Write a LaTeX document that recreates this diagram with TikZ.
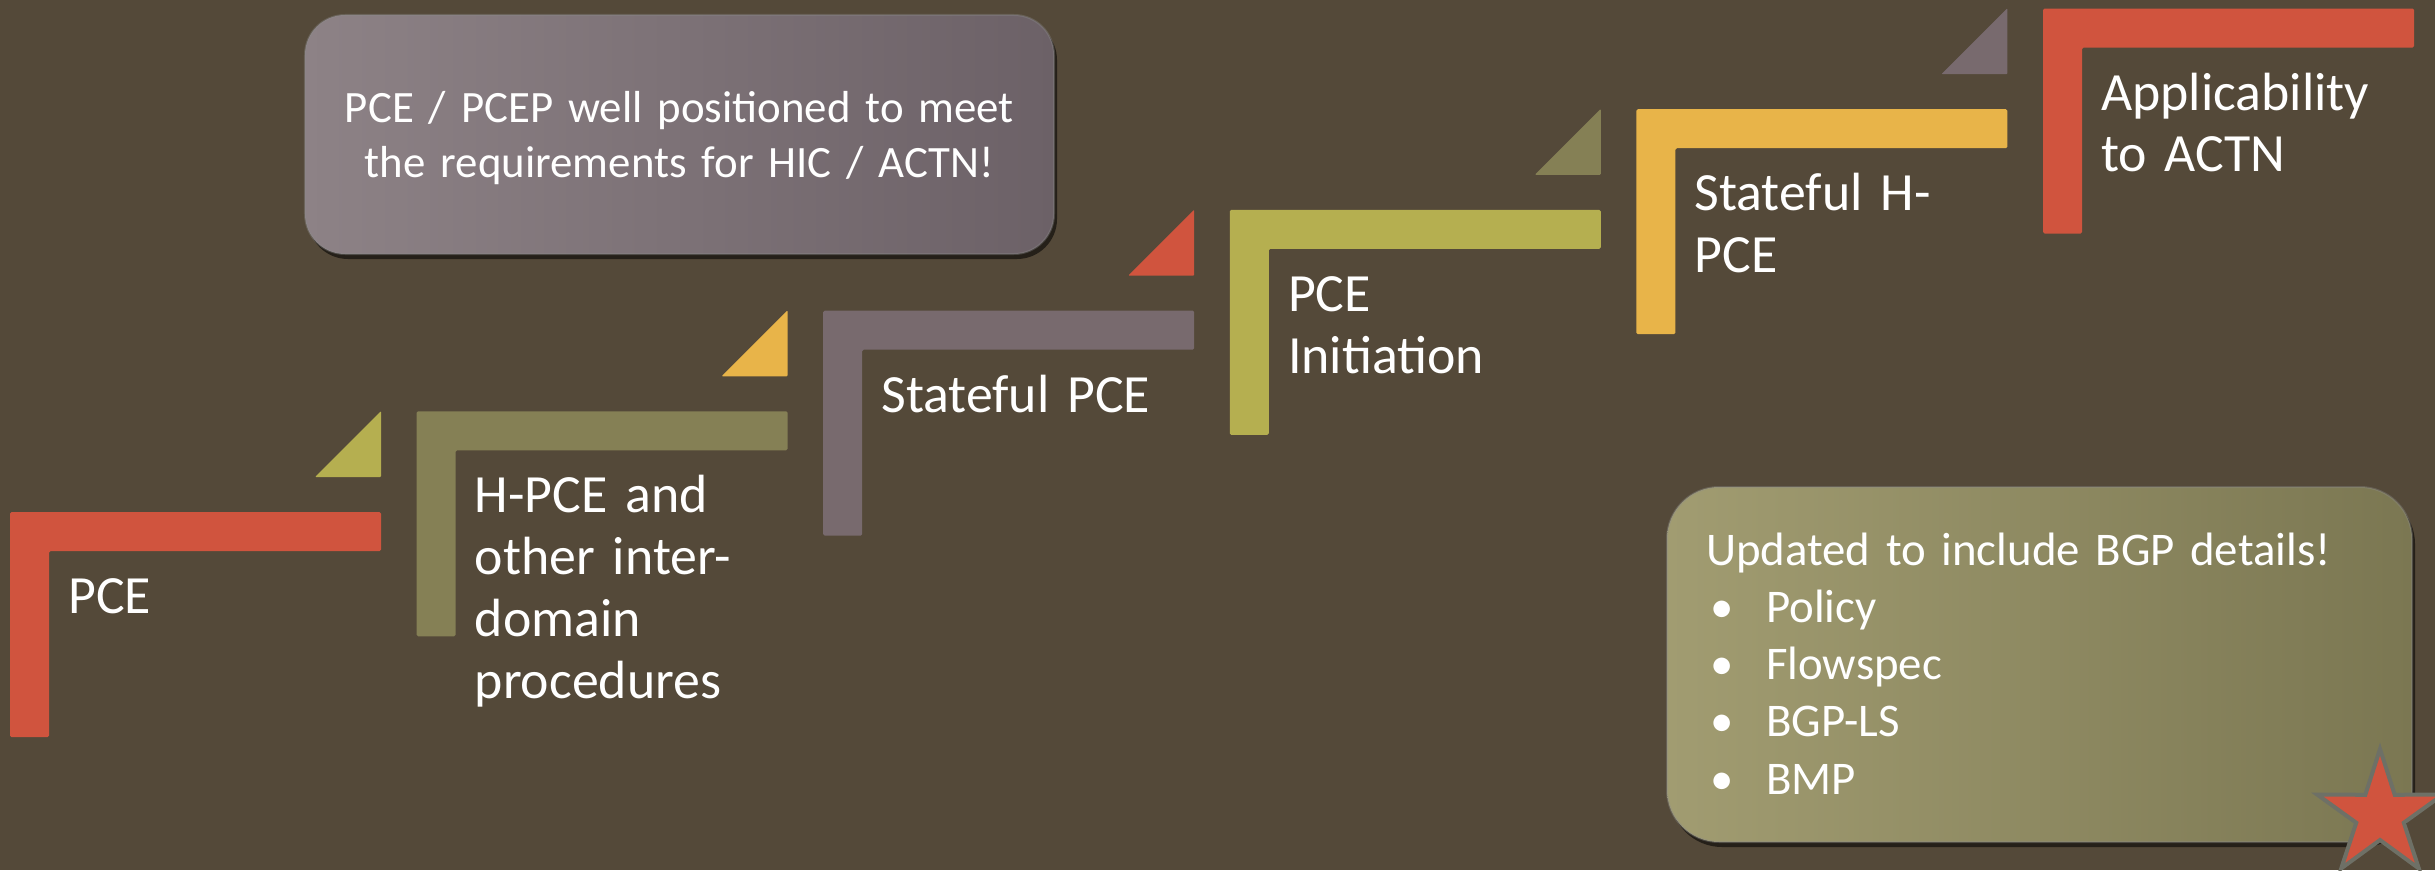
\documentclass[tikz,border=0pt]{standalone}
\usepackage{fontspec}
\setmainfont{Carlito}
\usetikzlibrary{shadows}

\definecolor{bgBrown}{HTML}{544939}
\definecolor{stRed}{HTML}{D0543E}
\definecolor{stOlive}{HTML}{858055}
\definecolor{stMauve}{HTML}{786A6E}
\definecolor{stLime}{HTML}{B5AF50}
\definecolor{stGold}{HTML}{E8B449}
\definecolor{starEdge}{HTML}{6E7066}
\definecolor{boxMauveL}{HTML}{8D8286}
\definecolor{boxMauveR}{HTML}{6C6167}
\definecolor{boxOliveL}{HTML}{A19C71}
\definecolor{boxOliveR}{HTML}{7B7752}

% one L-shaped stair step: left, top, colour
\newcommand\drawstep[3]{%
  \fill[#3, rounded corners=1.5bp] (#1,#2) -- ++(371,0) -- ++(0,39) -- ++(-332,0)
    -- ++(0,186) -- ++(-39,0) -- cycle;}
% small corner wedge above a step: right edge, bottom edge, colour
\newcommand\drawwedge[3]{%
  \fill[#3, rounded corners=1bp] (#1,#2) -- ++(-66,0) -- ++(66,-66) -- cycle;}
% bullet with its hanging indent
\newcommand\bul{\makebox[60bp][l]{\hspace{4bp}•}}

\tikzset{
  steplabel/.style={anchor=base west, inner sep=0pt, text=white, text width=420bp,
    align=left, font=\fontsize{54}{62}\selectfont},
  callout/.style={rounded corners=#1, draw=white!55!black, draw opacity=0.35,
    line width=2bp, inner sep=0pt,
    drop shadow={shadow xshift=3bp, shadow yshift=-5bp, opacity=0.55, fill=black}},
  callouttext/.style={inner sep=0pt, text=white}
}

\begin{document}
\begin{tikzpicture}[x=1bp, y=-1bp]
  \useasboundingbox (0,0) rectangle (2435,870);
  \fill[bgBrown] (0,0) rectangle (2435,870);

  % stair steps
  \drawstep{10}{512}{stRed}
  \drawstep{416.6}{411.3}{stOlive}
  \drawstep{823.2}{310.6}{stMauve}
  \drawstep{1229.8}{209.9}{stLime}
  \drawstep{1636.4}{109.2}{stGold}
  \drawstep{2043}{8.5}{stRed}

  % corner wedges
  \drawwedge{381}{477}{stLime}
  \drawwedge{787.6}{376.3}{stGold}
  \drawwedge{1194.2}{275.6}{stRed}
  \drawwedge{1600.8}{174.9}{stOlive}
  \drawwedge{2007.4}{74.2}{stMauve}

  % step labels
  \node[steplabel] (s1) at (68,613.5) {PCE};
  \node[steplabel] (s2) at (474.6,512.8) {H-PCE and\\other inter-\\domain\\procedures};
  \node[steplabel] (s3) at (881.2,412.1) {Stateful PCE};
  \node[steplabel] (s4) at (1287.8,311.4) {PCE\\Initiation};
  \node[steplabel] (s5) at (1694.4,210.7) {Stateful H-\\PCE};
  \node[steplabel] (s6) at (2101,110) {Applicability\\to ACTN};

  % upper callout
  \node[callout=40bp, minimum width=749bp, minimum height=239bp,
        left color=boxMauveL, right color=boxMauveR] (c1) at (679.5,134.5) {};
  \node[callouttext, anchor=base, text width=740bp, align=center,
        font=\fontsize{45}{56}\selectfont] (t1) at (679.5,122)
    {PCE / PCEP well positioned to meet\\the requirements for HIC / ACTN!};

  % lower callout
  \node[callout=52bp, minimum width=745bp, minimum height=355bp,
        left color=boxOliveL, right color=boxOliveR] (c2) at (2039.5,664.5) {};
  \node[callouttext, anchor=base west, text width=700bp, align=left,
        font=\fontsize{47}{57.5}\selectfont] (t2) at (1706,565)
    {Updated to include BGP details!\\
     \bul Policy\\
     \bul Flowspec\\
     \bul BGP-LS\\
     \bul BMP};

  % star badge
  \draw[fill=stRed, draw=starEdge, line width=4bp, line join=miter, shift={(2380,815)}]
    (-90:66) -- (-54:25) -- (-18:66) -- (18:25) -- (54:66) -- (90:25)
    -- (126:66) -- (162:25) -- (198:66) -- (234:25) -- cycle;
\end{tikzpicture}
\end{document}
